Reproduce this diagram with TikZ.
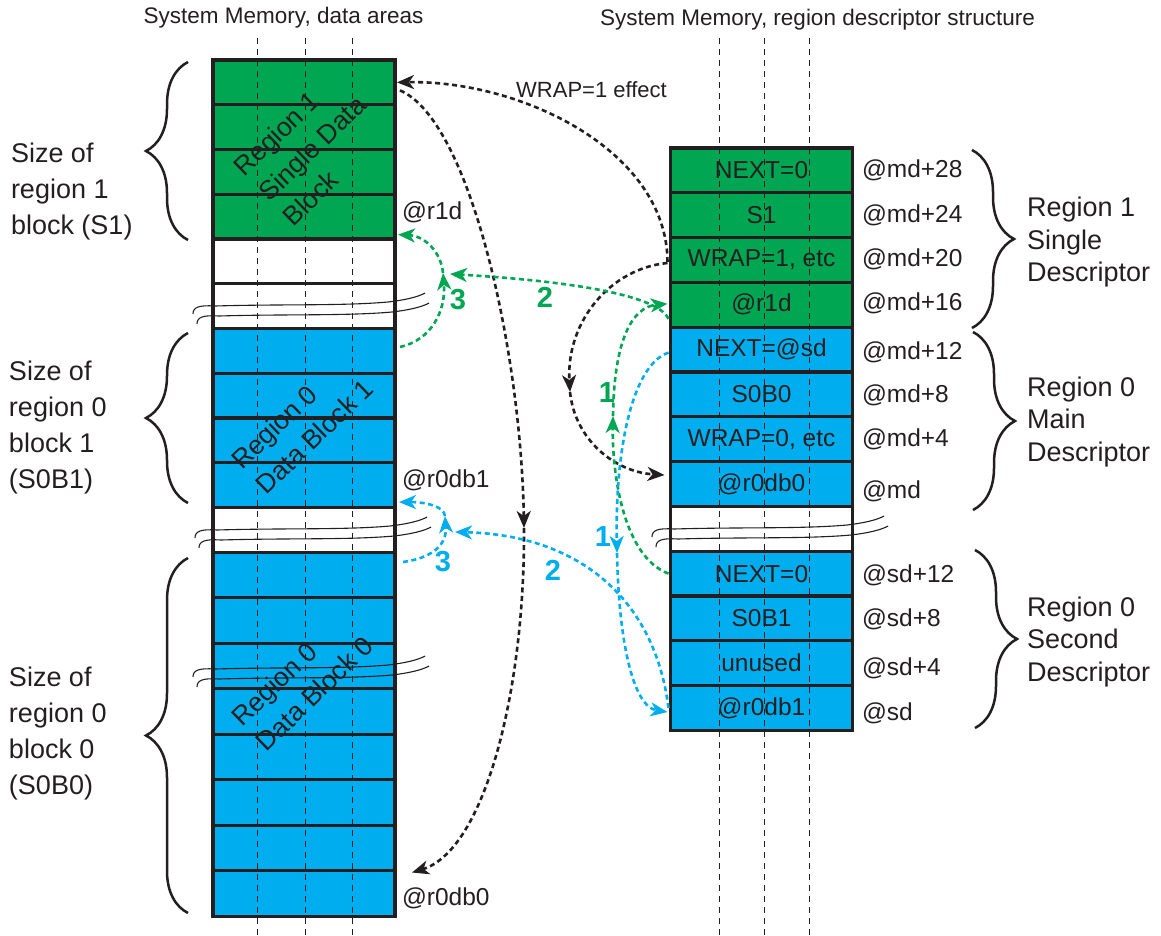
\documentclass[tikz,border=0pt]{standalone}
\usepackage{fontspec}
\setmainfont{Liberation Sans}
\usetikzlibrary{arrows.meta,calc,decorations.pathreplacing}
\definecolor{rgreen}{HTML}{00A651}
\definecolor{rblue}{HTML}{00AEEF}
\definecolor{dk}{HTML}{231F20}
\tikzset{
 base/.style={inner sep=0pt, outer sep=0pt},
 cell/.style={base, draw=dk, line width=3.3pt, minimum width=182pt, minimum height=44.8pt, text=dk, font=\fontsize{24.5}{28}\selectfont},
 gcell/.style={cell, fill=rgreen},
 bcell/.style={cell, fill=rblue},
 wcell/.style={cell, fill=white},
 lbl/.style={base, text=dk, font=\fontsize{24.5}{28}\selectfont, anchor=west},
 big/.style={base, text=dk, font=\fontsize{27}{36}\selectfont, align=left, anchor=west},
 bigr/.style={base, text=dk, font=\fontsize{27}{32.5}\selectfont, align=left, anchor=west},
 diag/.style={base, text=dk, font=\fontsize{26.5}{35}\selectfont, align=left, rotate=44},
 head/.style={base, text=dk, font=\fontsize{22.5}{24}\selectfont},
 guide/.style={draw=dk, line width=1pt, dash pattern=on 6pt off 5pt},
 brk/.style={draw=dk, line width=1.1pt},
 brc/.style={draw=dk, line width=2.5pt, decorate, decoration={brace, amplitude=42pt}},
 conn/.style={line width=2.6pt, dash pattern=on 5pt off 3.5pt, -{Stealth[length=17pt,width=14pt,inset=5pt]}},
 num/.style={base, font=\fontsize{29}{29}\selectfont\bfseries},
 brkpic/.pic={
  \draw[brk] (0,0) .. controls (0,-7) and (6,-9) .. (22,-8) .. controls (90,-10) and (150,-8) .. (195,-12) .. controls (212,-14) and (225,-17) .. (232,-21);
  \draw[brk] (4,10) .. controls (4,3) and (10,1) .. (26,2) .. controls (94,0) and (154,2) .. (199,-2) .. controls (216,-4) and (229,-7) .. (236,-11);
 },
}
\begin{document}
\begin{tikzpicture}[x=1pt,y=-1pt]
\useasboundingbox (0,0) rectangle (1161,935);
% ---------- left column ----------
\node[gcell] (L1) at (304,82.4) {};
\node[gcell] (L2) at (304,127.1) {};
\node[gcell] (L3) at (304,171.9) {};
\node[gcell] (L4) at (304,216.6) {};
\node[wcell] (W1) at (304,261.4) {};
\node[wcell] (W2) at (304,306.1) {};
\node[bcell] (B1) at (304,350.9) {};
\node[bcell] (B2) at (304,395.6) {};
\node[bcell] (B3) at (304,440.4) {};
\node[bcell] (B4) at (304,485.1) {};
\node[wcell] (W3) at (304,529.9) {};
\foreach \i/\y in {1/575,2/620.5,3/666,4/711.5,5/757,6/802.5,7/848,8/893.5}
  \node[bcell, minimum height=45.5pt] (C\i) at (304,\y) {};
% ---------- right column ----------
\node[gcell] (R1) at (761.5,170.4) {NEXT=0};
\node[gcell] (R2) at (761.5,215.2) {S1};
\node[gcell] (R3) at (761.5,260) {WRAP=1, etc};
\node[gcell] (R4) at (761.5,304.8) {@r1d};
\node[bcell] (R5) at (761.5,349.6) {NEXT=@sd};
\node[bcell] (R6) at (761.5,394.4) {S0B0};
\node[bcell] (R7) at (761.5,439.2) {WRAP=0, etc};
\node[bcell] (R8) at (761.5,484) {@r0db0};
\node[wcell] (RW) at (761.5,528.8) {};
\node[bcell] (S1) at (761.5,573.6) {NEXT=0};
\node[bcell] (S2) at (761.5,618.4) {S0B1};
\node[bcell] (S3) at (761.5,663.2) {unused};
\node[bcell] (S4) at (761.5,708) {@r0db1};
% ---------- guide lines ----------
\foreach \x in {257,305,352,719,764,809}
  \draw[guide] (\x,38) -- (\x,935);
% ---------- breaks ----------
\pic at (193,314) {brkpic};
\pic at (195,538) {brkpic};
\pic at (193,677) {brkpic};
\pic at (652,537) {brkpic};
% ---------- diagonal texts ----------
\node[diag] (d1) at (312,148) {Region 1\\Single Data\\Block};
\node[diag] (d2) at (302,424) {Region 0\\Data Block 1};
\node[diag] (d3) at (302,681) {Region 0\\Data Block 0};
% ---------- headers ----------
\node[head] (h1) at (283.5,18) {System Memory, data areas};
\node[head] (h2) at (817.5,20) {System Memory, region descriptor structure};
\node[head, font=\fontsize{22}{24}\selectfont] (wr) at (591.5,90) {WRAP=1 effect};
% ---------- address labels ----------
\node[lbl] (a1) at (402,212) {@r1d};
\node[lbl] (a2) at (402,480) {@r0db1};
\node[lbl] (a3) at (402,898) {@r0db0};
\foreach \n/\y/\t in {m1/170/@md+28,m2/215/@md+24,m3/259/@md+20,m4/303/@md+16,m5/352/@md+12,m6/395/@md+8,m7/439/@md+4,m8/491/@md,s1/575/@sd+12,s2/619/@sd+8,s3/668/@sd+4,s4/713/@sd}
  \node[lbl] (\n) at (862,\y) {\t};
% ---------- braces ----------
\draw[brc] (188,240) -- (188,62);
\draw[brc] (188,503) -- (188,333);
\draw[brc] (188,913) -- (188,558);
\draw[brc] (972,150) -- (972,328);
\draw[brc] (973,332) -- (973,510);
\draw[brc] (975,550) -- (975,728);
\node[big] (t1) at (11,191.5) {Size of\\region 1\\block (S1)};
\node[big] (t2) at (9,428) {Size of\\region 0\\block 1\\(S0B1)};
\node[big] (t3) at (9,733) {Size of\\region 0\\block 0\\(S0B0)};
\node[bigr] (u1) at (1027,242.5) {Region 1\\Single\\Descriptor};
\node[bigr] (u2) at (1027,422) {Region 0\\Main\\Descriptor};
\node[bigr] (u3) at (1027,642) {Region 0\\Second\\Descriptor};
% ---------- connectors ----------
\coordinate (kA) at (524,528);
\coordinate (kB) at (570,392);
\coordinate (g2e) at (450,274);
\coordinate (g3m) at (443,273);
\coordinate (g1m) at (613,416);
\coordinate (b1m) at (617,553);
\coordinate (b2e) at (455,532);
\coordinate (b3m) at (445,516);
% black
\draw[conn, draw=dk] ($(R3.west)+(-3,2)$) .. controls (667,150) and (520,80) .. ($(L1.east)+(2,0)$);
\draw[conn, draw=dk] ($(L1.east)+(5,8)$) .. controls (470,120) and (521,350) .. (kA);
\draw[conn, draw=dk] (kA) .. controls (525,690) and (485,850) .. ($(C8.east)+(17,-21)$);
\draw[conn, draw=dk] ($(R3.west)+(-3,3)$) .. controls (612,268) and (566,320) .. (kB);
\draw[conn, draw=dk] (kB) .. controls (575,440) and (615,472) .. ($(R8.west)+(-6,-9)$);
% green
\draw[conn, draw=rgreen] ($(R4.west)+(-2,14)$) .. controls (660,300) and (600,283) .. (g2e);
\draw[conn, draw=rgreen] ($(B1.east)+(5,-4)$) .. controls (432,340) and (446,310) .. (g3m);
\draw[conn, draw=rgreen] (g3m) .. controls (441,252) and (425,236) .. ($(L4.east)+(3,18)$);
\draw[conn, draw=rgreen] ($(S1.west)+(-2,0)$) .. controls (622,556) and (612,470) .. (g1m);
\draw[conn, draw=rgreen] (g1m) .. controls (614,340) and (632,307) .. ($(R4.west)+(-3,-1)$);
% blue
\draw[conn, draw=rblue] ($(R5.west)+(-2,3)$) .. controls (632,365) and (615,450) .. (b1m);
\draw[conn, draw=rblue] (b1m) .. controls (619,650) and (635,707) .. ($(S4.west)+(-3,4)$);
\draw[conn, draw=rblue] ($(S4.west)+(-2,0)$) .. controls (655,600) and (580,535) .. (b2e);
\draw[conn, draw=rblue] ($(C1.east)+(8,-13)$) .. controls (432,558) and (447,545) .. (b3m);
\draw[conn, draw=rblue] (b3m) .. controls (444,506) and (425,502) .. ($(B4.east)+(4,17)$);
% numbers
\node[num, text=rgreen] (n3g) at (458,300) {3};
\node[num, text=rgreen] (n2g) at (545,297) {2};
\node[num, text=rgreen] (n1g) at (607,393) {1};
\node[num, text=rblue] (n3b) at (443,562) {3};
\node[num, text=rblue] (n2b) at (553,570) {2};
\node[num, text=rblue] (n1b) at (603,537) {1};
\end{tikzpicture}
\end{document}
